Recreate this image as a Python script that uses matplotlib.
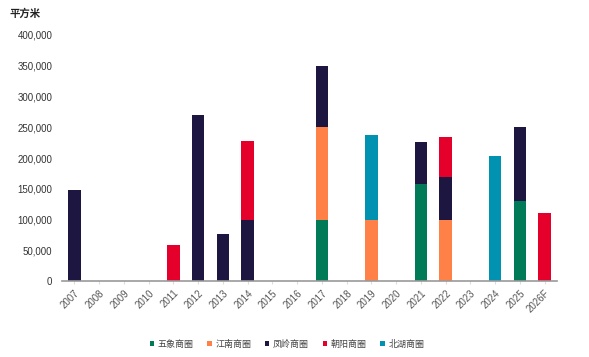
import matplotlib
matplotlib.use("Agg")
import matplotlib.pyplot as plt
import numpy as np

plt.rcParams['font.family'] = ['Noto Sans CJK SC', 'DejaVu Sans']

years = ["2007", "2008", "2009", "2010", "2011", "2012", "2013", "2014", "2015", "2016",
         "2017", "2018", "2019", "2020", "2021", "2022", "2023", "2024", "2025", "2026F"]
series_names = ["五象商圈", "江南商圈", "凤岭商圈", "朝阳商圈", "北湖商圈"]
wuxiang  = [0, 0, 0, 0, 0, 0, 0, 0, 0, 0, 100000, 0, 0, 0, 158000, 0, 0, 0, 130000, 0]
jiangnan = [0, 0, 0, 0, 0, 0, 0, 0, 0, 0, 150000, 0, 100000, 0, 0, 100000, 0, 0, 0, 0]
fengling = [148000, 0, 0, 0, 0, 270000, 76000, 100000, 0, 0, 100000, 0, 0, 0, 68000, 69000, 0, 0, 120000, 0]
chaoyang = [0, 0, 0, 0, 59000, 0, 0, 127000, 0, 0, 0, 0, 0, 0, 0, 65000, 0, 0, 0, 110000]
beihu    = [0, 0, 0, 0, 0, 0, 0, 0, 0, 0, 0, 0, 138000, 0, 0, 0, 0, 203000, 0, 0]
yticks = [0, 50000, 100000, 150000, 200000, 250000, 300000, 350000, 400000]

colors = ["#007A57", "#FF8148", "#1D1641", "#E4002B", "#0092B0"]

fig = plt.figure(figsize=(5.89, 3.57), dpi=100)
ax = fig.add_axes([62/589, (357-281)/357, (557-62)/589, (281-35)/357])

x = np.arange(len(years))
bottom = np.zeros(len(years))
for name, vals, c in zip(series_names, [wuxiang, jiangnan, fengling, chaoyang, beihu], colors):
    v = np.array(vals, dtype=float)
    ax.bar(x, v, bottom=bottom, width=0.5, color=c, label=name)
    bottom += v

ax.set_xlim(-0.5, len(years) - 0.5)
ax.set_ylim(0, 400000)
ax.set_yticks(yticks)
ax.set_yticklabels([f"{v:,}" for v in yticks], fontsize=7, color="#333333", family="Liberation Sans")
ax.set_xticks(x)
ax.set_xticklabels(years, rotation=45, ha="right", rotation_mode="anchor", fontsize=7,
                   color="#555555", family="Liberation Sans")
ax.tick_params(axis="y", length=0, pad=7)
ax.tick_params(axis="x", length=2, color="#dddddd", pad=3)
for s in ["top", "right", "left"]:
    ax.spines[s].set_visible(False)
ax.spines["bottom"].set_color("#999999")
ax.spines["bottom"].set_linewidth(1.2)

fig.text(10/589, 1 - 14/357, "平方米", fontsize=7.5, color="#222222", va="center", ha="left",
         fontweight="bold")

leg = fig.legend(loc="center", bbox_to_anchor=(287/589, 1 - 344/357), ncol=5, frameon=False,
                 fontsize=6.5, handlelength=0.5, handleheight=0.5, handletextpad=0.4,
                 columnspacing=1.5, labelcolor="#444444")

fig.savefig("out.png", dpi=100)
